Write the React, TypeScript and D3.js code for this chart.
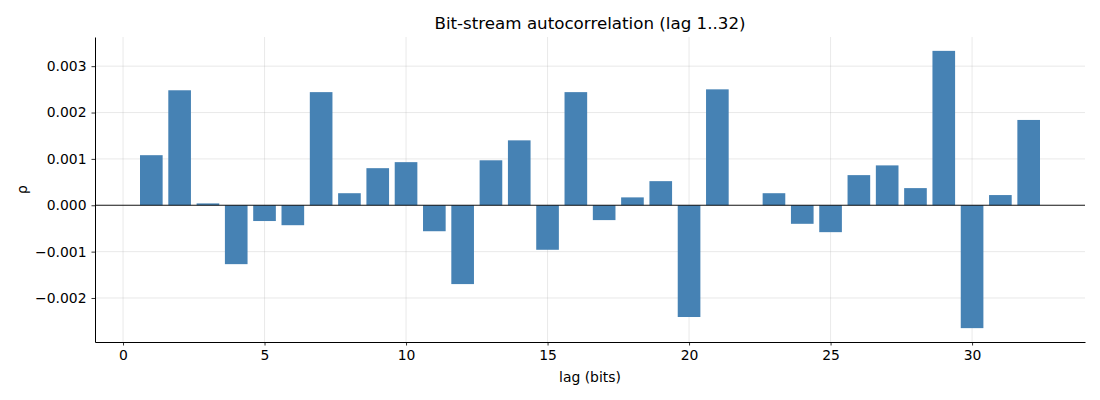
import React, { useEffect, useRef } from 'react';
import * as d3 from 'd3';

// lag (bits) and autocorrelation values
const lags = d3.range(1, 33);
const rho = [
  0.00108, 0.00248, 0.00004, -0.00127, -0.00034, -0.00043, 0.00244, 0.00026,
  0.0008, 0.00093, -0.00056, -0.0017, 0.00097, 0.0014, -0.00096, 0.00244,
  -0.00032, 0.00017, 0.00052, -0.00241, 0.0025, 0.0, 0.00026, -0.0004,
  -0.00058, 0.00065, 0.00086, 0.00037, 0.00333, -0.00265, 0.00022, 0.00184,
];
const xTicks = [0, 5, 10, 15, 20, 25, 30];
const yTicks = [-0.002, -0.001, 0, 0.001, 0.002, 0.003];

const W = 1100;
const H = 400;
const margin = { top: 37, right: 15, bottom: 58, left: 95 };
const FONT = 'DejaVu Sans, sans-serif';

const App: React.FC = () => {
  const svgRef = useRef<SVGSVGElement>(null);

  useEffect(() => {
    if (!svgRef.current) return;
    const svg = d3.select(svgRef.current);
    svg.selectAll('*').remove();

    const cw = W - margin.left - margin.right;
    const ch = H - margin.top - margin.bottom;

    // matplotlib-style 5% margins around the bars
    const xLo = lags[0] - 0.4;
    const xHi = lags[lags.length - 1] + 0.4;
    const xPad = (xHi - xLo) * 0.05;
    const x = d3.scaleLinear().domain([xLo - xPad, xHi + xPad]).range([0, cw]);

    const yMin = d3.min(rho) || 0;
    const yMax = d3.max(rho) || 0;
    const yPad = (yMax - yMin) * 0.05;
    const y = d3.scaleLinear().domain([yMin - yPad, yMax + yPad]).range([ch, 0]);

    const g = svg.append('g').attr('transform', `translate(${margin.left},${margin.top})`);

    // grid
    g.append('g')
      .selectAll('line')
      .data(xTicks)
      .enter()
      .append('line')
      .attr('x1', d => x(d)).attr('x2', d => x(d))
      .attr('y1', 0).attr('y2', ch)
      .attr('stroke', '#b0b0b0').attr('stroke-opacity', 0.35).attr('stroke-width', 0.8);
    g.append('g')
      .selectAll('line')
      .data(yTicks)
      .enter()
      .append('line')
      .attr('x1', 0).attr('x2', cw)
      .attr('y1', d => y(d)).attr('y2', d => y(d))
      .attr('stroke', '#b0b0b0').attr('stroke-opacity', 0.35).attr('stroke-width', 0.8);

    // bars
    g.append('g')
      .selectAll('rect')
      .data(lags)
      .enter()
      .append('rect')
      .attr('x', d => x(d - 0.4))
      .attr('width', x(0.8) - x(0))
      .attr('y', (_d, i) => y(Math.max(0, rho[i])))
      .attr('height', (_d, i) => Math.abs(y(rho[i]) - y(0)))
      .attr('fill', 'steelblue');

    // zero line
    g.append('line')
      .attr('x1', 0).attr('x2', cw)
      .attr('y1', y(0)).attr('y2', y(0))
      .attr('stroke', 'black').attr('stroke-width', 0.9);

    // axes (tickSize first, since it also sets the outer size)
    const xAxis = g.append('g')
      .attr('transform', `translate(0,${ch})`)
      .call(d3.axisBottom(x).tickValues(xTicks).tickFormat(d3.format('d')).tickSize(3.5).tickSizeOuter(0).tickPadding(5));
    const yAxis = g.append('g')
      .call(
        d3.axisLeft(y)
          .tickValues(yTicks)
          .tickFormat(d => d3.format('.3f')(d as number).replace('-', '\u2212'))
          .tickSize(3.5)
          .tickSizeOuter(0)
          .tickPadding(5)
      );
    [xAxis, yAxis].forEach(a => {
      a.selectAll('.domain').attr('stroke', 'black').attr('stroke-width', 1);
      a.selectAll('.tick line').attr('stroke', 'black').attr('stroke-width', 0.8);
      a.selectAll('text')
        .attr('fill', 'black')
        .style('font-family', FONT)
        .style('font-size', '13.9px');
    });

    // labels
    svg.append('text')
      .attr('x', margin.left + cw / 2)
      .attr('y', 29)
      .attr('text-anchor', 'middle')
      .style('font-family', FONT)
      .style('font-size', '16.7px')
      .text('Bit-stream autocorrelation (lag 1..32)');

    svg.append('text')
      .attr('x', margin.left + cw / 2)
      .attr('y', 382)
      .attr('text-anchor', 'middle')
      .style('font-family', FONT)
      .style('font-size', '13.9px')
      .text('lag (bits)');

    svg.append('text')
      .attr('transform', `translate(27,${margin.top + ch / 2}) rotate(-90)`)
      .attr('text-anchor', 'middle')
      .style('font-family', FONT)
      .style('font-size', '13.9px')
      .text('ρ');
  }, []);

  return (
    <svg
      ref={svgRef}
      width={W}
      height={H}
      style={{ position: 'absolute', left: 0, top: 0, background: 'white' }}
    />
  );
};

export default App;
